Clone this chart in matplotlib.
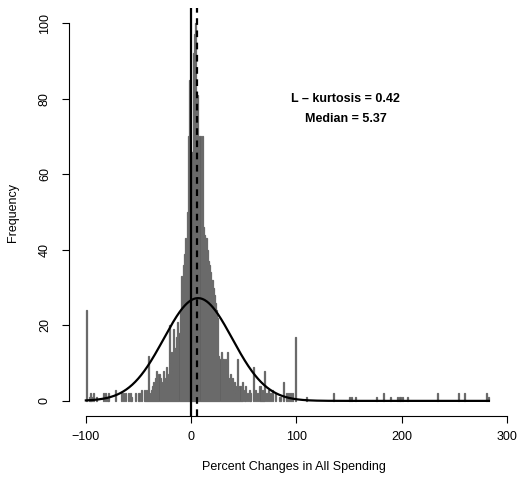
import numpy as np
import matplotlib
matplotlib.use("Agg")
import matplotlib.pyplot as plt

plt.rcParams["font.family"] = ["Liberation Sans", "DejaVu Sans"]

# histogram of percent changes, 1-unit bins (left edge -> count)
center_start = -45
center_counts = [
    3, 2, 3, 1, 12, 2, 1, 3, 4, 5,        # -45 .. -36
    4, 6, 8, 5, 7, 6, 4, 5, 8, 4,         # -35 .. -26
    6, 9, 5, 7, 20, 10, 13, 8, 19, 14,    # -25 .. -16
    14, 17, 21, 18, 24, 33, 29, 36, 39, 43,  # -15 .. -6
    42, 50, 70, 85, 60, 66, 66, 92, 97, 100,  # -5 .. 4
    81, 81, 68, 70, 62, 70, 46, 44, 43, 43,  # 5 .. 14
    40, 37, 36, 34, 32, 32, 30, 28, 26, 24,  # 15 .. 24
    22, 12, 11, 13, 11, 11, 9, 11, 8, 13,    # 25 .. 34
    6, 5, 7, 4, 6, 3, 5, 2, 4, 11, 3,        # 35 .. 45
]
tail_bins = [-100, -97, -96, -95, -93, -90, -84, -82, -80, -79, -72, -67, -65, -63,
             -60, -58, -57, -53, -50, -48,
             46, 47, 48, 50, 51, 53, 55, 56, 59, 61, 63, 65, 66, 67, 68, 69, 71, 73,
             75, 77, 80, 84, 87, 90, 92, 94, 96, 99, 109, 135, 150, 152, 156,
             176, 182, 189, 196, 198, 200, 205, 234, 254, 259, 280, 282]
tail_counts = [24, 1, 2, 1, 2, 1, 2, 2, 1, 2, 3, 2, 2, 2,
               2, 2, 1, 2, 2, 3,
               4, 3, 5, 3, 4, 2, 3, 2, 9, 3, 2, 4, 3, 2, 3, 8, 2, 3,
               2, 3, 2, 1, 5, 2, 2, 2, 2, 17, 1, 2, 1, 1, 1,
               1, 2, 1, 1, 1, 1, 1, 2, 2, 2, 2, 1]

# fitted normal curve and summary stats
fit_mean = 6.6
fit_sd = 32.5
fit_n = 2216
median_value = 5.37
lkurt_value = 0.42

bins = list(range(center_start, center_start + len(center_counts))) + tail_bins
counts = center_counts + tail_counts

fig = plt.figure(figsize=(5.19, 4.79), dpi=100)
ax = fig.add_axes([69 / 519, 63 / 479, 450 / 519, 408 / 479])

ax.bar(bins, counts, width=1, align="edge", color="#5e5e5e",
       edgecolor="#6a6a6a", linewidth=0.9)

xs = np.linspace(-100, 283, 800)
ys = fit_n * np.exp(-0.5 * ((xs - fit_mean) / fit_sd) ** 2) / (fit_sd * np.sqrt(2 * np.pi))
ax.plot(xs, ys, color="black", lw=1.6)

ax.axvline(0, color="black", lw=1.6)
ax.axvline(median_value, color="black", lw=1.6, ls=(0, (3, 2.5)))

ax.text(147, 80, "L \u2013 kurtosis = %.2f" % lkurt_value, ha="center", va="center",
        fontsize=9, fontweight="bold")
ax.text(147, 74.5, "Median = %.2f" % median_value, ha="center", va="center",
        fontsize=9, fontweight="bold")

ax.set_xlim(-116, 311.6)
ax.set_ylim(-4, 104)
for s in ["top", "right"]:
    ax.spines[s].set_visible(False)
ax.spines["bottom"].set_bounds(-100, 300)
ax.spines["left"].set_bounds(0, 100)
ax.set_xticks([-100, 0, 100, 200, 300])
ax.set_xticklabels(["\u2212100", "0", "100", "200", "300"])
ax.set_yticks([0, 20, 40, 60, 80, 100])
ax.set_yticklabels(["0", "20", "40", "60", "80", "100"], rotation=90, va="center")
ax.tick_params(length=5, width=0.8, labelsize=9, pad=6)
ax.tick_params(axis="y", pad=8)
ax.set_xlabel("Percent Changes in All Spending", fontsize=9, labelpad=13)
ax.set_ylabel("Frequency", fontsize=9, labelpad=14)

plt.savefig("out.png", dpi=100)
plt.close()
